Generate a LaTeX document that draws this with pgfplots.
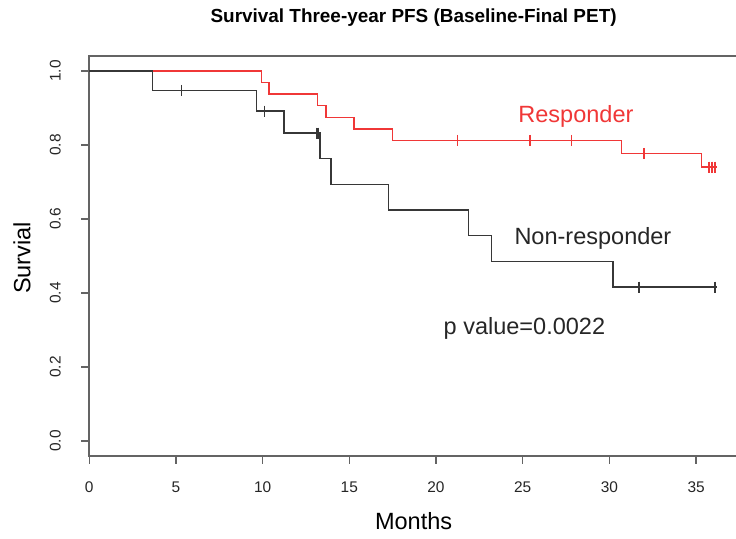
\documentclass[border=0pt]{standalone}
\usepackage{pgfplots}
\pgfplotsset{compat=1.18}
\usepackage{fontspec}
\setmainfont{Liberation Sans}
\definecolor{kmred}{RGB}{240,55,55}
\definecolor{kmline}{RGB}{55,55,55}
\definecolor{axgray}{RGB}{100,100,100}
\begin{document}
\begin{tikzpicture}
\useasboundingbox (0,0) rectangle (736bp,539bp);
\clip (0,0) rectangle (736bp,539bp);
\begin{axis}[
    at={(89.2bp,83.2bp)}, anchor=south west,
    scale only axis, width=649.2bp, height=399.6bp,
    xmin=0, xmax=37.44, ymin=-0.04, ymax=1.04,
    axis line style={axgray, line width=1.4bp},
    tick style={axgray, line width=1.3bp},
    tick pos=left, tick align=outside, major tick length=8bp,
    xtick={0,5,...,35}, ytick={0,0.2,0.4,0.6,0.8,1.0},
    /pgf/number format/assume math mode=true,
    ticklabel style={font=\fontsize{15.5}{18}\selectfont, text=black!85},
    xticklabel style={anchor=center},
    xticklabel shift=23bp,
    yticklabel style={rotate=90, anchor=center,
        /pgf/number format/fixed, /pgf/number format/fixed zerofill,
        /pgf/number format/precision=1},
    yticklabel shift=26bp,
    title={Survival Three-year PFS (Baseline-Final PET)},
    title style={font=\bfseries\fontsize{19}{22}\selectfont, at={(axis description cs:0.4997,1.081)}, anchor=center},
    xlabel={Months},
    xlabel style={font=\fontsize{23.6}{28}\selectfont, at={(axis description cs:0.4997,-0.163)}, anchor=center},
    ylabel={Survial},
    ylabel style={font=\fontsize{23.6}{28}\selectfont, at={(axis description cs:-0.1035,0.495)}, anchor=center, rotate=0},
    clip=false,
]
% Responder
\addplot[const plot, kmred, line width=1.4bp] coordinates {
    (0,1) (9.95,0.96875) (10.37,0.9375) (13.15,0.90625) (13.66,0.875)
    (15.27,0.84375) (17.5,0.8125) (30.7,0.7772) (35.3,0.7402) (36.2,0.7402)};
\addplot[only marks, mark=|, mark size=5.5bp, kmred, line width=1.4bp] coordinates {
    (21.23,0.8125) (25.42,0.8125) (27.8,0.8125) (32.0,0.7772)
    (35.75,0.7402) (35.92,0.7402) (36.09,0.7402)};
% Non-responder
\addplot[const plot, kmline, line width=1.4bp] coordinates {
    (0,1) (3.64,0.9474) (9.66,0.8916) (11.23,0.8322) (13.31,0.7628)
    (13.95,0.6935) (17.25,0.6241) (21.86,0.5548) (23.2,0.4854)
    (30.2,0.4161) (36.2,0.4161)};
\addplot[only marks, mark=|, mark size=5.5bp, kmline, line width=1.4bp] coordinates {
    (5.33,0.9474) (10.1,0.8916) (13.1,0.8322) (13.2,0.8322)
    (31.7,0.4161) (36.1,0.4161)};
\node[kmred, font=\fontsize{23.6}{28}\selectfont] at (axis cs:28.07,0.876) {Responder};
\node[black!85, font=\fontsize{23.6}{28}\selectfont] at (axis cs:29.05,0.548) {Non-responder};
\node[black!85, font=\fontsize{23.6}{28}\selectfont] at (axis cs:25.1,0.305) {p value=0.0022};
\end{axis}
\end{tikzpicture}
\end{document}
